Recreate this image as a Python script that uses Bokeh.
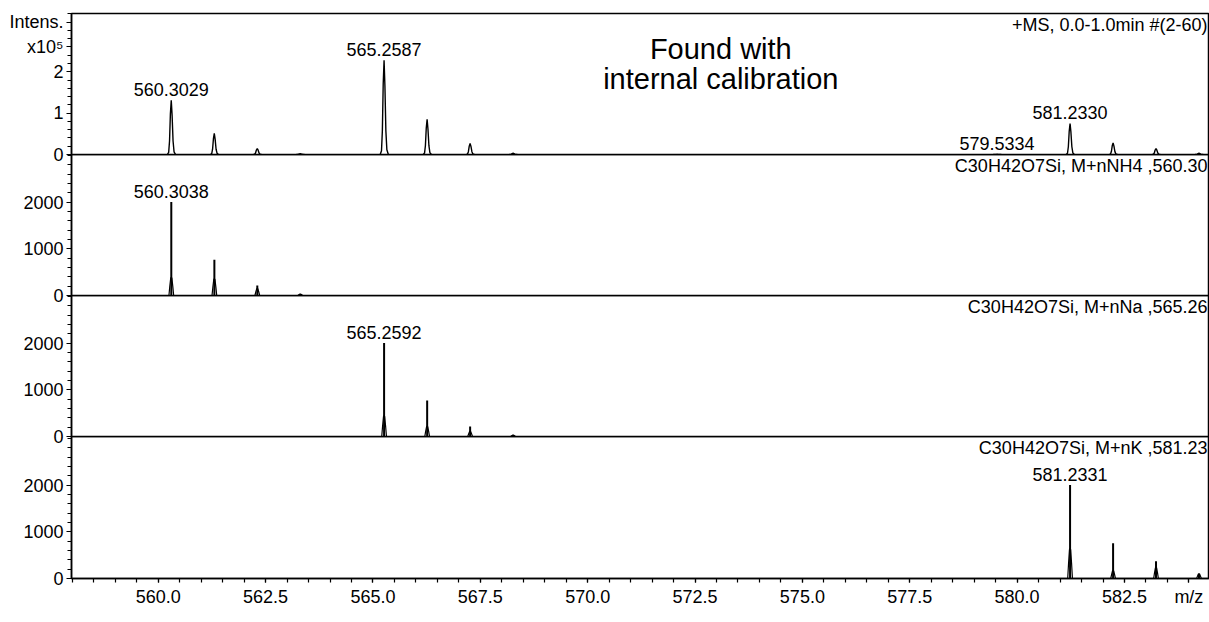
from bokeh.plotting import figure
from bokeh.layouts import column
from bokeh.models import FixedTicker, PrintfTickFormatter, ColumnDataSource, Range1d
from bokeh.embed import file_html
from bokeh.resources import INLINE
from bokeh.core.properties import value

FONT = "Liberation Sans"

# ---------------- data ----------------
X_START, X_END = 557.98, 584.48

# measured spectrum (+MS), intensities in units of 1e5
ms_mz = [560.3029, 561.3050, 562.3055, 563.3060, 565.2587, 566.2610, 567.2620,
         568.2630, 579.5334, 581.2330, 582.2350, 583.2345, 584.2350]
ms_int = [1.31, 0.51, 0.145, 0.02, 2.28, 0.85, 0.27, 0.03, 0.005, 0.75, 0.28, 0.145, 0.03]
ms_label_mz = [560.3029, 565.2587, 579.5334, 581.2330]
ms_label_int = [1.31, 2.28, 0.005, 0.75]

# simulated isotope patterns: stick heights and profile foot heights
nh4_mz = [560.3038, 561.3070, 562.3065, 563.3070]
nh4_int = [2000, 765, 214, 30]
nh4_foot = [390, 360, 150, 30]

na_mz = [565.2592, 566.2620, 567.2625, 568.2630]
na_int = [2000, 771, 214, 30]
na_foot = [450, 220, 110, 30]

k_mz = [581.2331, 582.2350, 583.2345, 584.2350]
k_int = [2000, 757, 371, 100]
k_foot = [650, 170, 240, 100]

headers = ["+MS, 0.0-1.0min #(2-60)",
           "C30H42O7Si, M+nNH4 ,560.30",
           "C30H42O7Si, M+nNa ,565.26",
           "C30H42O7Si, M+nK ,581.23"]
note_lines = ["Found with", "internal calibration"]

x_major = [560.0, 562.5, 565.0, 567.5, 570.0, 572.5, 575.0, 577.5, 580.0, 582.5, 584.0]
x_minor = [558.0 + 0.5 * i for i in range(54)]

# ---------------- style (peak shapes) ----------------
PROF_DX = [-0.09, -0.06, -0.04, -0.02, 0.0, 0.02, 0.042, 0.065, 0.1]
PROF_F = [0.0, 0.04, 0.25, 0.75, 1.0, 0.72, 0.25, 0.05, 0.0]
FOOT_DX = [-0.055, -0.035, -0.014, 0.0, 0.014, 0.035, 0.055]
FOOT_F = [0.0, 0.5, 0.95, 1.0, 0.95, 0.5, 0.0]

OVERLAP = 10  # px of bottom border that overlaps the next panel (for the "0" labels)


def shapes(mz, inten, dx, frac):
    xs = [[m + d for d in dx] for m in mz]
    ys = [[h * f for f in frac] for h in inten]
    return xs, ys


x_range = Range1d(X_START, X_END)


def make_panel(height, top, bottom, y_end, show_x, overlap):
    p = figure(width=1209, height=height + overlap, output_backend="svg", toolbar_location=None,
               x_range=x_range, y_range=Range1d(0, y_end),
               min_border_left=71, min_border_right=0,
               min_border_top=top, min_border_bottom=bottom + overlap,
               x_axis_location="below" if show_x else None,
               margin=(0, 0, -overlap, 0))
    p.grid.visible = False
    p.outline_line_color = "black"
    p.outline_line_width = 1.5
    p.background_fill_alpha = 0
    p.border_fill_alpha = 0
    ax = p.yaxis[0]
    ax.axis_line_width = 1.5
    ax.major_tick_in = 0
    ax.major_tick_out = 5
    ax.minor_tick_in = 0
    ax.minor_tick_out = 4
    ax.major_tick_line_width = 1.2
    ax.minor_tick_line_width = 1.2
    ax.major_label_text_font = FONT
    ax.major_label_text_font_size = "18px"
    ax.major_label_text_color = "black"
    ax.major_label_standoff = 3
    return p


def add_header(p, text, y_end):
    p.text(x=[X_END], y=[y_end], text=[text], text_align="right", text_baseline="top",
           x_offset=-2, y_offset=1, text_font=value(FONT), text_font_size="18px",
           text_color="black")


def add_labels(p, mz, inten):
    src = ColumnDataSource(dict(x=mz, y=inten, t=["%.4f" % m for m in mz]))
    p.text(x="x", y="y", text="t", source=src, text_align="center",
           text_baseline="middle", y_offset=-11, text_font=value(FONT),
           text_font_size="18px", text_color="black")


def add_sim(p, mz, inten, foot):
    p.segment(x0=mz, y0=[0] * len(mz), x1=mz, y1=inten, line_color="black", line_width=2)
    fx, fy = shapes(mz, foot, FOOT_DX, FOOT_F)
    p.multi_line(xs=fx, ys=fy, line_color="black", line_width=1.2)


# panel 1: measured spectrum
Y1 = 3.41
p1 = make_panel(154, 13, 0, Y1, False, OVERLAP)
p1.yaxis.ticker = FixedTicker(ticks=[0, 1, 2, 2.6, 3.2],
                              minor_ticks=[0.2 * i for i in range(18)])
p1.yaxis.major_label_overrides = {2.6: "x10\u2075", 3.2: "Intens."}
mx, my = shapes(ms_mz, ms_int, PROF_DX, PROF_F)
p1.multi_line(xs=mx, ys=my, line_color="black", line_width=1.4)
add_labels(p1, ms_label_mz, ms_label_int)
add_header(p1, headers[0], Y1)
p1.text(x=[573.1, 573.1], y=[2.55, 1.83], text=note_lines, text_align="center",
        text_baseline="middle", text_font=value(FONT), text_font_size="29px",
        text_color="black")

sim_ticker = dict(ticks=[0, 1000, 2000], minor_ticks=[200 * i for i in range(16)])

Y2 = 3020
p2 = make_panel(141, 0, 0, Y2, False, OVERLAP)
p2.yaxis.ticker = FixedTicker(**sim_ticker)
add_sim(p2, nh4_mz, nh4_int, nh4_foot)
add_labels(p2, [nh4_mz[0]], [nh4_int[0]])
add_header(p2, headers[1], Y2)

p3 = make_panel(141, 0, 0, Y2, False, OVERLAP)
p3.yaxis.ticker = FixedTicker(**sim_ticker)
add_sim(p3, na_mz, na_int, na_foot)
add_labels(p3, [na_mz[0]], [na_int[0]])
add_header(p3, headers[2], Y2)

Y4 = 3040
p4 = make_panel(186, 0, 44, Y4, True, 0)
p4.yaxis.ticker = FixedTicker(**sim_ticker)
add_sim(p4, k_mz, k_int, k_foot)
add_labels(p4, [k_mz[0]], [k_int[0]])
add_header(p4, headers[3], Y4)
xa = p4.xaxis[0]
xa.ticker = FixedTicker(ticks=x_major, minor_ticks=x_minor)
xa.formatter = PrintfTickFormatter(format="%.1f")
xa.major_label_overrides = {584.0: "m/z"}
xa.axis_line_width = 1.5
xa.major_tick_in = 0
xa.major_tick_out = 4
xa.minor_tick_in = 0
xa.minor_tick_out = 4
xa.major_tick_line_width = 1.2
xa.minor_tick_line_width = 1.2
xa.major_label_text_font = FONT
xa.major_label_text_font_size = "18px"
xa.major_label_text_color = "black"
xa.major_label_standoff = 4

layout = column(p1, p2, p3, p4, spacing=0)
open("out.html", "w").write(file_html(layout, INLINE))
